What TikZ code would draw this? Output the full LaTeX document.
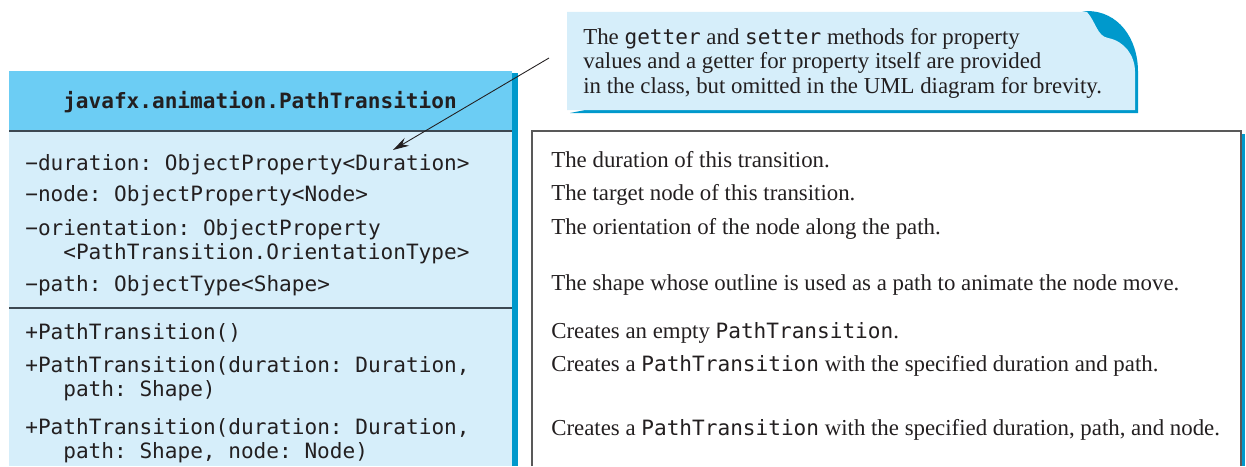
\documentclass[tikz,border=0pt]{standalone}
\usepackage{fontspec}
\setmainfont{Liberation Serif}
\setmonofont{DejaVu Sans Mono}
\usetikzlibrary{arrows.meta}
\definecolor{umlhead}{RGB}{108,205,244}
\definecolor{umlbody}{RGB}{214,238,250}
\definecolor{umlshade}{RGB}{0,153,204}
\definecolor{rulegray}{RGB}{60,72,82}
\definecolor{inkgray}{RGB}{35,31,32}
\newcommand{\code}[1]{{\fontsize{12}{14}\selectfont\ttfamily #1}}
\tikzset{
  member/.style={anchor=base west, inner sep=0pt, text=inkgray,
    font=\fontsize{12}{14}\selectfont\ttfamily},
  remark/.style={anchor=base west, inner sep=0pt, text=inkgray,
    font=\fontsize{13}{15}\selectfont},
}
\begin{document}
\begin{tikzpicture}[x=0.02cm,y=-0.02cm]
        \useasboundingbox (0,0) rectangle (1246,466);
        % Note with folded corner
        \fill[umlshade] (570,113) -- (1138,113) -- (1138,72) .. controls (1138,38) and (1118,11) .. (1087,11) -- cycle;
        \fill[umlbody] (567,12) -- (1087,12) .. controls (1096,22) and (1097,36) .. (1108,38)
              .. controls (1124,41) and (1135,55) .. (1135,72) -- (1135,110) -- (567,110) -- cycle;
        \node[remark] (notea) at (583,45) {The \code{getter} and \code{setter} methods for property};
        \node[remark] (noteb) at (583,69) {values and a getter for property itself are provided};
        \node[remark] (notec) at (583,93) {in the class, but omitted in the UML diagram for brevity.};
        % Class box
        \fill[umlbody] (9,71) rectangle (512,466);
        \fill[umlhead] (9,71) rectangle (512,131);
        \fill[umlshade] (512,73) rectangle (518,466);
        \draw[rulegray, line width=1.1pt] (9,131) -- (512,131);
        \draw[rulegray, line width=0.8pt] (9,308) -- (512,308);
        \node[member, anchor=base, font=\fontsize{12}{14}\selectfont\ttfamily\bfseries] (classname) at (260,109) {javafx.animation.PathTransition};
        % Properties
        \node[member] (dur) at (25,170) {−duration: ObjectProperty<Duration>};
        \node[member] (nodeattr) at (25,201) {−node: ObjectProperty<Node>};
        \node[member] (orient) at (25,235) {−orientation: ObjectProperty};
        \node[member] (orienttype) at (63,259) {<PathTransition.OrientationType>};
        \node[member] (pathattr) at (25,291) {−path: ObjectType<Shape>};
        % Constructors
        \node[member] (ctorempty) at (25,339) {+PathTransition()};
        \node[member] (ctordur) at (25,372) {+PathTransition(duration: Duration,};
        \node[member] (ctordurpath) at (63,396) {path: Shape)};
        \node[member] (ctorfull) at (25,434) {+PathTransition(duration: Duration,};
        \node[member] (ctorfullnode) at (63,458) {path: Shape, node: Node)};
        % Description box
        \fill[umlshade] (1241,134) rectangle (1245,466);
        \draw[gray!70!black, line width=0.8pt] (532,466) -- (532,131) -- (1241,131) -- (1241,466);
        \node[remark] (durdesc) at (551,167) {The duration of this transition.};
        \node[remark] (nodedesc) at (551,200) {The target node of this transition.};
        \node[remark] (orientdesc) at (551,234) {The orientation of the node along the path.};
        \node[remark] (pathdesc) at (551,290) {The shape whose outline is used as a path to animate the node move.};
        \node[remark] (ctoremptydesc) at (551,338) {Creates an empty \code{PathTransition}.};
        \node[remark] (ctordurdesc) at (551,371) {Creates a \code{PathTransition} with the specified duration and path.};
        \node[remark] (ctorfulldesc) at (551,435) {Creates a \code{PathTransition} with the specified duration, path, and node.};
        % Pointer from note
        \coordinate (notetail) at (549,58);
        \coordinate (durhead) at (393,150);
        \draw[-{Stealth[length=3.2mm, width=1.8mm]}, inkgray, line width=0.5pt] (notetail) -- (durhead);
\end{tikzpicture}
\end{document}
